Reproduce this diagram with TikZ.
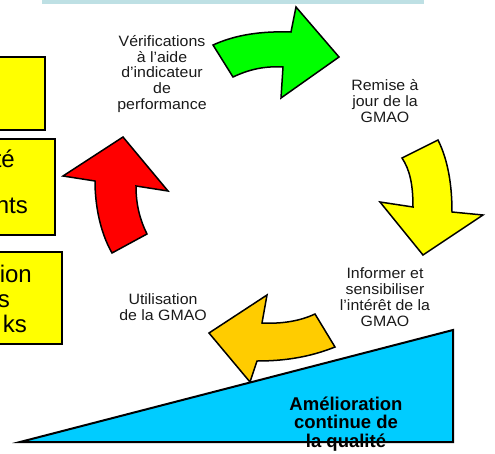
\documentclass[tikz,border=0pt]{standalone}
\usepackage{fontspec}
\setmainfont{Liberation Sans}
\newfontfamily\lblfont[FakeStretch=1.06]{Liberation Sans}
\definecolor{topbar}{HTML}{BEE0E4}
\definecolor{cgreen}{HTML}{00FF00}
\definecolor{cyellow}{HTML}{FFFF00}
\definecolor{corange}{HTML}{FFCC00}
\definecolor{cred}{HTML}{FF0000}
\definecolor{cblue}{HTML}{00CCFF}
\definecolor{lbltext}{HTML}{1A1A1A}
\begin{document}
\begin{tikzpicture}[x=1pt,y=-1pt,
  arrowshape/.style={draw=black, line width=1.5pt, line join=miter},
  ybox/.style={draw=black, fill=cyellow, line width=2pt},
  boxtext/.style={anchor=base east, inner sep=0, font=\fontsize{24}{26}\selectfont},
  lbl/.style={align=center, font=\lblfont\fontsize{15}{15.8}\selectfont, text=lbltext, inner sep=0}]
\useasboundingbox (0,0) rectangle (495,453);
\fill[topbar] (42,-2) rectangle (424,4);

% left yellow boxes (cut by the left edge)
\draw[ybox] (-10,57) rectangle (45,130);
\draw[ybox] (-10,139) rectangle (55,235);
\draw[ybox] (-10,252) rectangle (62,344);
\node[boxtext] (b2a) at (15,167) {té};
\node[boxtext] (b2b) at (28,213) {nts};
\node[boxtext] (b3a) at (32,282) {ion};
\node[boxtext] (b3b) at (10,307) {s};
\node[boxtext] (b3c) at (27,332) {ks};

% curved arrows
\draw[arrowshape, fill=cgreen] (213,45) -- (233,77) .. controls (250,69) and (265,66) .. (283,67)
  -- (281,98) -- (339,57) -- (296,7) -- (291,32) .. controls (260,31) and (235,35) .. (213,45) -- cycle;
\draw[arrowshape, fill=cyellow] (402,158) -- (438,140) .. controls (448,160) and (452,185) .. (452,212)
  -- (483,215) -- (423,255) -- (380,202) -- (413,207) .. controls (413,185) and (410,170) .. (402,158) -- cycle;
\draw[arrowshape, fill=corange] (315,314) -- (335,347) .. controls (310,357) and (285,361) .. (257,361)
  -- (250,382) -- (209,333) -- (267,295) -- (262,323) .. controls (282,324) and (300,321) .. (315,314) -- cycle;
\draw[arrowshape, fill=cred] (123,137) -- (168,191) -- (136,186) .. controls (136,205) and (140,220) .. (147,234)
  -- (112,253) .. controls (100,232) and (95,205) .. (95,181) -- (63,176) -- cycle;

% labels
\node[lbl] (verif) at (162,74) {Vérifications\\à l’aide\\d’indicateur\\de\\performance};
\node[lbl] (remise) at (385,101) {Remise à\\jour de la\\GMAO};
\node[lbl] (inform) at (385,297) {Informer et\\sensibiliser\\l’intérêt de la\\GMAO};
\node[lbl] (util) at (163,307) {Utilisation\\de la GMAO};

% triangle
\draw[draw=black, fill=cblue, line width=2pt, line join=miter] (20,442) -- (453,442) -- (453,330) -- cycle;
\node[align=center, inner sep=0, font=\bfseries\fontsize{18.5}{18.5}\selectfont] (amel) at (346,424) {Amélioration\\continue de\\la qualité};
\draw[line width=2pt] (20,442) -- (453,442);
\end{tikzpicture}
\end{document}
